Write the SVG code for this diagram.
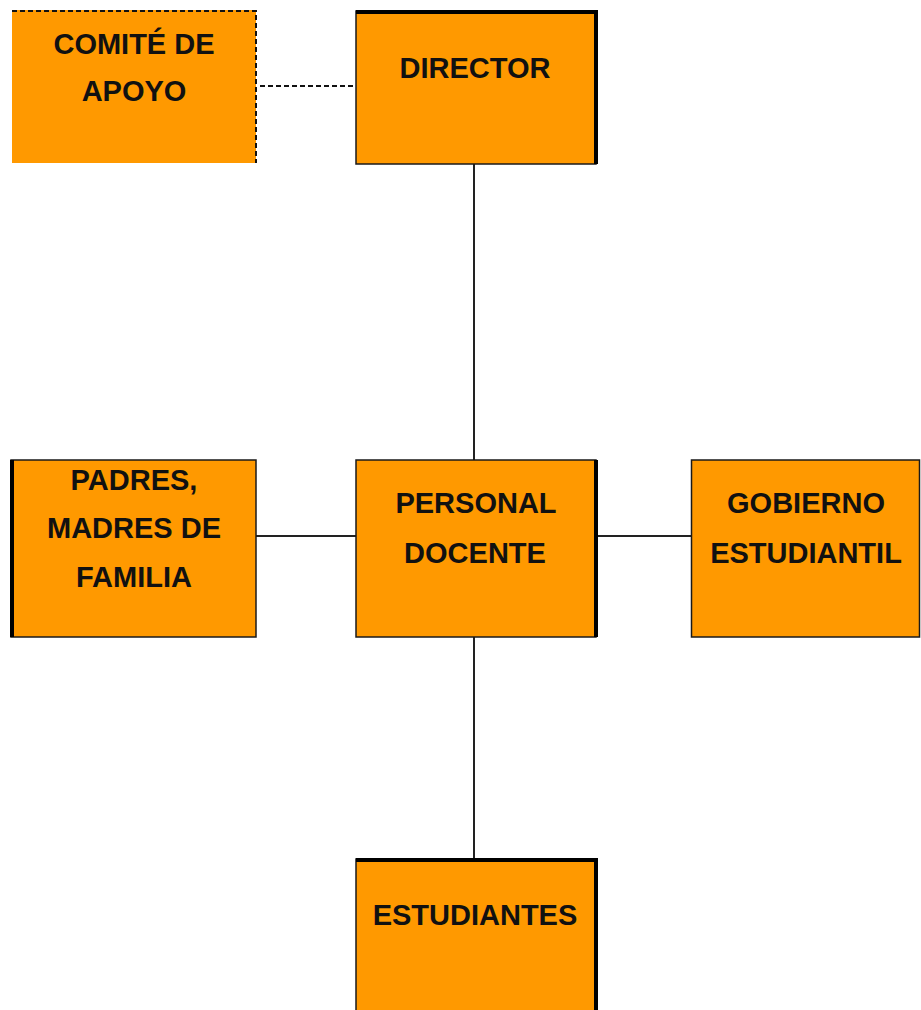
<svg xmlns="http://www.w3.org/2000/svg" width="921" height="1010" viewBox="0 0 921 1010">
<style>
.box{fill:#FF9900;stroke:#1a1a1a;stroke-width:1.5}
.thick{stroke:#000;stroke-width:4;fill:none}
.lbl{font-family:"Liberation Sans",Arial,sans-serif;font-weight:bold;font-size:29px;fill:#111;text-anchor:middle}
.conn{stroke:#222;stroke-width:2;fill:none}
.dash{stroke:#111;stroke-width:2;stroke-dasharray:5,3;fill:none}
</style>
<rect width="921" height="1010" fill="#fff"/>
<g id="connectors">
<line class="dash" x1="260" y1="86" x2="355" y2="86"/>
<line class="conn" x1="474" y1="164" x2="474" y2="460"/>
<line class="conn" x1="256" y1="536" x2="356" y2="536"/>
<line class="conn" x1="597" y1="536" x2="691" y2="536"/>
<line class="conn" x1="474" y1="637" x2="474" y2="858"/>
</g>
<g id="comite">
<rect x="12" y="10" width="244" height="153" fill="#FF9900"/>
<path class="dash" d="M12,11 H256 V163"/>
<text class="lbl" x="134" y="54">COMITÉ DE</text>
<text class="lbl" x="134" y="101">APOYO</text>
</g>
<g id="director">
<rect class="box" x="356" y="11" width="240" height="153"/>
<path class="thick" d="M356,12 H596 V164"/>
<text class="lbl" x="475" y="78">DIRECTOR</text>
</g>
<g id="padres">
<rect class="box" x="11" y="460" width="245" height="177"/>
<line class="thick" x1="12" y1="460" x2="12" y2="637"/>
<text class="lbl" x="134" y="490">PADRES,</text>
<text class="lbl" x="134" y="538">MADRES DE</text>
<text class="lbl" x="134" y="587">FAMILIA</text>
</g>
<g id="personal">
<rect class="box" x="356" y="460" width="240" height="177"/>
<line class="thick" x1="596" y1="460" x2="596" y2="637"/>
<text class="lbl" x="476" y="513">PERSONAL</text>
<text class="lbl" x="475" y="563">DOCENTE</text>
</g>
<g id="gobierno">
<rect class="box" x="691.5" y="460" width="228" height="177"/>
<text class="lbl" x="806" y="513">GOBIERNO</text>
<text class="lbl" x="806" y="563">ESTUDIANTIL</text>
</g>
<g id="estudiantes">
<rect class="box" x="356" y="859" width="240" height="160"/>
<path class="thick" d="M356,860 H596 V1012"/>
<text class="lbl" x="475" y="925">ESTUDIANTES</text>
</g>
</svg>
